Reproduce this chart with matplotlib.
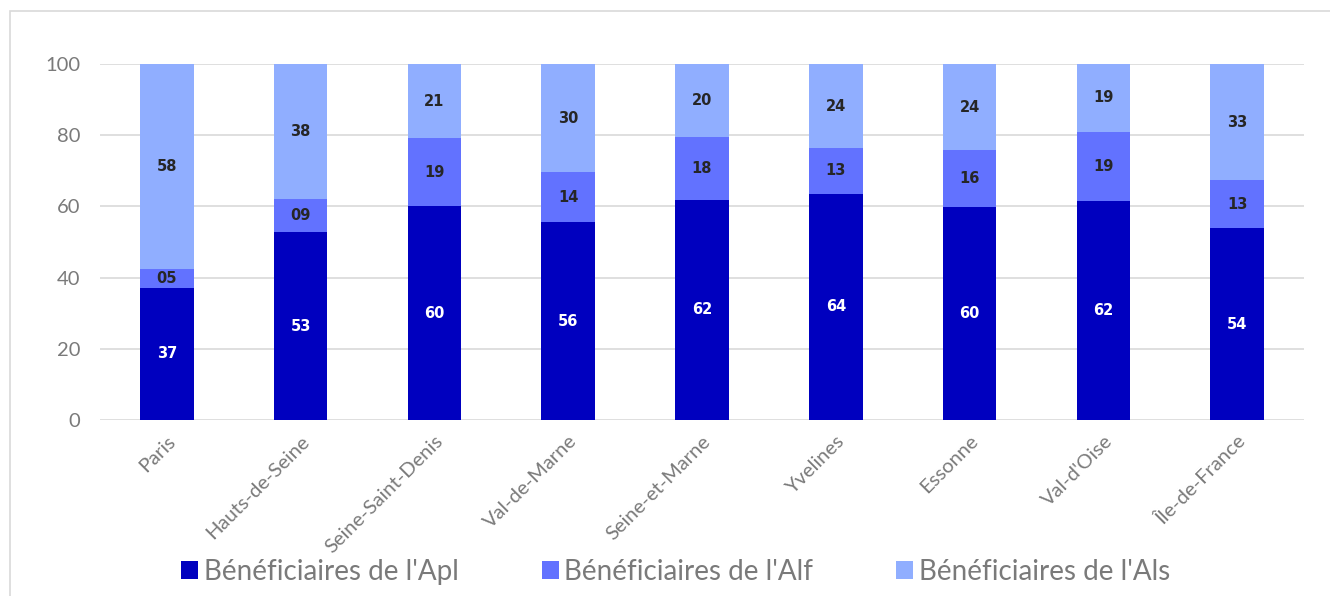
import matplotlib.pyplot as plt
import matplotlib.patches as mpatches
import numpy as np

plt.rcParams['font.family'] = ['Lato', 'DejaVu Sans']

departements = ['Paris', 'Hauts-de-Seine', 'Seine-Saint-Denis', 'Val-de-Marne',
                'Seine-et-Marne', 'Yvelines', 'Essonne', "Val-d'Oise", 'Île-de-France']
apl = [37.1, 52.8, 60.1, 55.6, 61.8, 63.5, 59.8, 61.5, 53.9]
alf = [5.3, 9.3, 19.1, 14.0, 17.7, 12.9, 16.0, 19.4, 13.4]
als = [57.6, 37.9, 20.8, 30.4, 20.5, 23.6, 24.2, 19.1, 32.7]
series_names = ["Bénéficiaires de l'Apl", "Bénéficiaires de l'Alf", "Bénéficiaires de l'Als"]

colors = ['#0000BF', '#6272FF', '#90AEFF']
label_colors = ['white', '#262626', '#262626']
text_grey = '#7a7a7a'

fig = plt.figure(figsize=(13.3, 5.96), dpi=100)
ax = fig.add_axes([100 / 1330, 1 - 420 / 596, 1204 / 1330, 356 / 596])

# light frame around the chart area
fig.patches.append(mpatches.Rectangle((10 / 1330, -0.1), 1.2, 1 - 11 / 596 + 0.1,
                                      transform=fig.transFigure, fill=False,
                                      edgecolor='#d9d9d9', linewidth=1.2))

x = np.arange(len(departements))
bottom = np.zeros(len(departements))
for vals, name, col, lc in zip([apl, alf, als], series_names, colors, label_colors):
    bars = ax.bar(x, vals, width=0.4, bottom=bottom, color=col, label=name, zorder=3)
    ax.bar_label(bars, labels=['%02.0f' % v for v in vals], label_type='center',
                 color=lc, fontsize=10.5, fontweight='bold', family='DejaVu Sans')
    bottom += np.array(vals)

ax.set_xlim(-0.5, len(departements) - 0.5)
ax.set_ylim(0, 100)
ax.set_yticks(range(0, 101, 20))
ax.yaxis.grid(True, color='#d9d9d9', linewidth=1.2, zorder=0)
ax.set_axisbelow(True)
for s in ax.spines.values():
    s.set_visible(False)
ax.tick_params(axis='both', length=0, colors=text_grey)
ax.tick_params(axis='y', labelsize=14.5, pad=14)
ax.set_xticks(x)
ax.set_xticklabels(departements, rotation=45, ha='right', rotation_mode='anchor',
                   fontsize=14.5)
ax.tick_params(axis='x', pad=9)

leg = fig.legend(loc='center', bbox_to_anchor=(0.508, 1 - 572 / 596), ncol=3,
                 frameon=False, handlelength=0.6, handleheight=0.6,
                 handletextpad=0.2, columnspacing=3.0, labelcolor=text_grey,
                 prop={'size': 20})

fig.savefig('out.png', dpi=100)
